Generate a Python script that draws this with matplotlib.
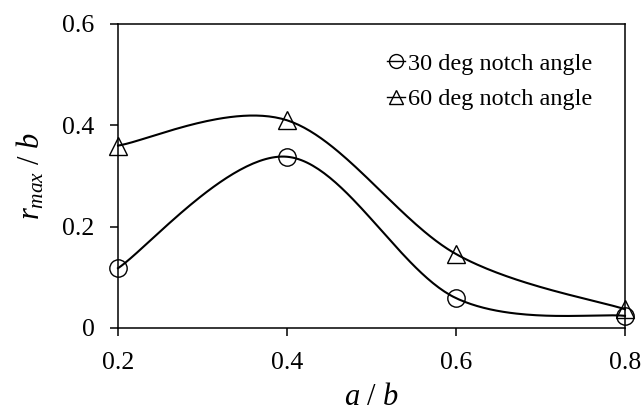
import numpy as np
import matplotlib
matplotlib.use("Agg")
import matplotlib.pyplot as plt
from matplotlib.lines import Line2D

# ---- data ----
x_vals = [0.2, 0.4, 0.6, 0.8]
y_30 = [0.118, 0.338, 0.059, 0.024]
y_60 = [0.36, 0.41, 0.146, 0.037]
series_labels = ["30 deg notch angle", "60 deg notch angle"]
x_ticks = [0.2, 0.4, 0.6, 0.8]
x_ticklabels = ["0.2", "0.4", "0.6", "0.8"]
y_ticks = [0, 0.2, 0.4, 0.6]
y_ticklabels = ["0", "0.2", "0.4", "0.6"]

plt.rcParams['font.family'] = ['Liberation Serif', 'DejaVu Serif']
plt.rcParams['mathtext.fontset'] = 'custom'
plt.rcParams['mathtext.rm'] = 'Liberation Serif'
plt.rcParams['mathtext.it'] = 'Liberation Serif:italic'


def smooth(xs, ys, n=60):
    """Excel-like smoothed line (Catmull-Rom / cubic Bezier segments)."""
    P = np.column_stack([xs, ys]).astype(float)
    sx, sy = 507 / 0.6, 304 / 0.6   # screen-space scaling
    P = P * [sx, sy]
    ext = np.vstack([P[0], P, P[-1]])
    out = []
    t = np.linspace(0, 1, n)
    for i in range(1, len(ext) - 2):
        p0, p1, p2, p3 = ext[i - 1], ext[i], ext[i + 1], ext[i + 2]
        c1 = p1 + (p2 - p0) / 6
        c2 = p2 - (p3 - p1) / 6
        seg = ((1 - t) ** 3)[:, None] * p1 + (3 * (1 - t) ** 2 * t)[:, None] * c1 \
            + (3 * (1 - t) * t ** 2)[:, None] * c2 + (t ** 3)[:, None] * p2
        out.append(seg)
    C = np.vstack(out) / [sx, sy]
    return C[:, 0], C[:, 1]


fig = plt.figure(figsize=(6.44, 4.12), dpi=100)
ax = fig.add_axes([118 / 644, 1 - 328 / 412, (625 - 118) / 644, (328 - 24) / 412])

lw = 1.5
for ys, mk in [(y_30, 'o'), (y_60, '^')]:
    sxv, syv = smooth(x_vals, ys)
    ax.plot(sxv, syv, color='black', lw=lw, clip_on=False, zorder=2)
    ax.plot(x_vals, ys, linestyle='none', marker=mk, markersize=12.5,
            markerfacecolor='none', markeredgecolor='black', markeredgewidth=1.0,
            clip_on=False, zorder=3)

ax.set_xlim(0.2, 0.8)
ax.set_ylim(0, 0.6)
ax.set_xticks(x_ticks)
ax.set_xticklabels(x_ticklabels)
ax.set_yticks(y_ticks)
ax.set_yticklabels(y_ticklabels)
ax.tick_params(axis='both', direction='out', length=6, width=1.1, labelsize=18.5,
               colors='black')
ax.tick_params(axis='x', pad=11)
ax.tick_params(axis='y', pad=11)
for s in ax.spines.values():
    s.set_linewidth(1.1)
    s.set_color('black')

ax.set_xlabel(r'$a\ /\ b$', fontsize=22, labelpad=7)
ax.set_ylabel(r'$r_{max}\ /\ b$', fontsize=22, labelpad=11)

handles = [Line2D([0], [0], color='black', lw=1.0, marker='o', markersize=10,
                  markerfacecolor='none', markeredgewidth=1.0),
           Line2D([0], [0], color='black', lw=1.0, marker='^', markersize=10,
                  markerfacecolor='none', markeredgewidth=1.0)]
leg = ax.legend(handles, series_labels, loc='upper right', frameon=False,
                fontsize=17.5, handlelength=0.75, handletextpad=0.1,
                labelspacing=0.55, bbox_to_anchor=(0.935, 0.905),
                borderaxespad=0, borderpad=0)

fig.savefig('out.png', dpi=100)
